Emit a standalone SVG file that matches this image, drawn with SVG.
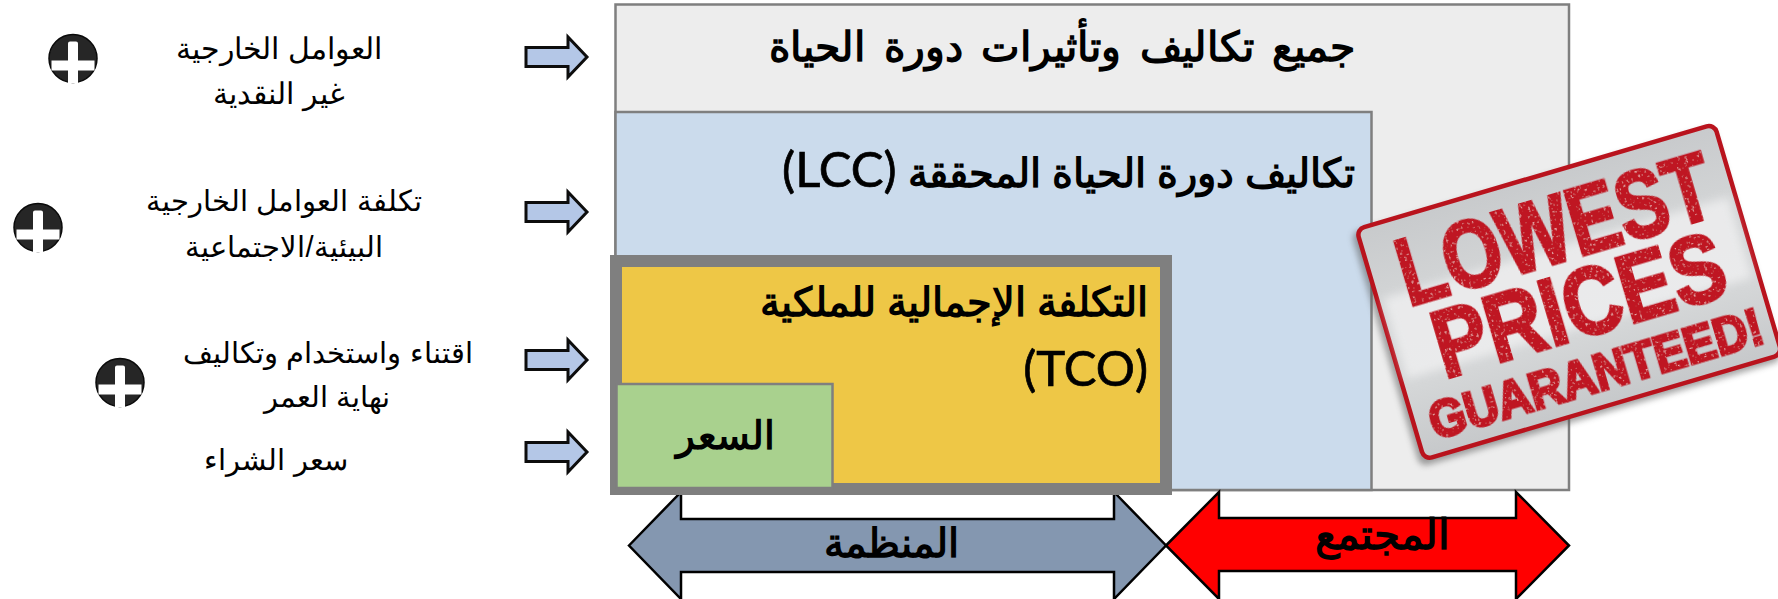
<svg xmlns="http://www.w3.org/2000/svg" width="1778" height="599" viewBox="0 0 1778 599">
<defs>
<style>
text{font-family:"Liberation Sans","Noto Sans",sans-serif;fill:#000;direction:rtl}
.lab{font-size:30px;text-anchor:middle}
.lab2{font-size:29px;text-anchor:middle}
.head{font-size:40px;font-weight:bold}
.mid{text-anchor:middle}
.lat{font-family:Lato,"Open Sans",sans-serif;font-size:49px;font-weight:normal;stroke:#000;stroke-width:.7px}
.box{stroke:#7f7f7f;stroke-width:2.5}
.small{fill:#b4c7e7;stroke:#0d0d0d;stroke-width:3}
.big{stroke:#000;stroke-width:2.5}
.stamp{font-family:"Liberation Sans",sans-serif;font-weight:bold;fill:#bf1722;stroke:#bf1722;stroke-width:3px;direction:ltr}
</style>
<linearGradient id="card" x1="0" y1="0" x2="0" y2="1">
<stop offset="0" stop-color="#c8cacc"/><stop offset=".3" stop-color="#d2d4d5"/><stop offset=".7" stop-color="#d4d6d7"/><stop offset="1" stop-color="#c6c8ca"/>
</linearGradient>
<filter id="blur" x="-10%" y="-10%" width="120%" height="120%"><feGaussianBlur stdDeviation="3"/></filter>
<filter id="bandblur" x="-5%" y="-20%" width="110%" height="140%"><feGaussianBlur stdDeviation="5"/></filter>
<filter id="speck" x="-5%" y="-5%" width="110%" height="110%">
<feTurbulence type="fractalNoise" baseFrequency=".4" numOctaves="2" seed="4" result="n"/>
<feColorMatrix in="n" type="matrix" values="0 0 0 0 .88 0 0 0 0 .42 0 0 0 0 .44 0 0 0 6 -3.9" result="s"/>
<feComposite in="s" in2="SourceAlpha" operator="in" result="c"/>
<feMerge><feMergeNode in="SourceGraphic"/><feMergeNode in="c"/></feMerge>
</filter>
<g id="badge">
<circle r="24" fill="#262626" stroke="#0a0a0a" stroke-width="1.5"/>
<path d="M-5,-15Q-5,-17 -3,-17H3Q5,-17 5,-15V2H21.5V12H5V24.5H-5V12H-21.5V2H-5Z" fill="#fff"/>
</g>
<path id="arr" class="small" d="M-61,-9.5H-19V-20L0,0L-19,20V9.5H-61Z"/>
</defs>
<g id="outer"><rect class="box" x="615.5" y="4.5" width="953.5" height="485.5" fill="#ededed"/></g>
<g id="lcc"><rect class="box" x="615.5" y="112" width="756" height="378" fill="#cbdbec"/></g>
<g id="connectors">
<use href="#arr" x="587" y="57"/>
<use href="#arr" x="587" y="212"/>
<use href="#arr" x="587" y="360"/>
<use href="#arr" x="587" y="452"/>
<path class="big" fill="#8497b0" d="M629,545.5L681,492V519H1114V492L1166,545.5L1114,599V572H681V599Z"/>
<path class="big" fill="#ff0000" d="M1166,545.5L1219,492V518H1516V492L1569,545.5L1516,599V571H1219V599Z"/>
</g>
<g id="tco"><rect x="616" y="261" width="550" height="228" fill="#eec746" stroke="#7f7f7f" stroke-width="12"/></g>
<g id="price"><rect class="box" x="616.5" y="384" width="216" height="104" fill="#a9d18e"/></g>
<g id="t1"><text class="head" x="1355" y="61" style="font-size:41px;word-spacing:7px">جميع تكاليف وتأثيرات دورة الحياة</text></g>
<g id="t2"><text class="head" x="1355" y="187">تكاليف دورة الحياة المحققة <tspan class="lat">(LCC)</tspan></text></g>
<g id="t3"><text class="head" x="1148" y="316">التكلفة الإجمالية للملكية</text><text class="head" x="1148" y="386"><tspan class="lat">(TCO)</tspan></text></g>
<g id="t4"><text class="head mid" x="725" y="449" style="font-size:39px">السعر</text></g>
<g id="l1"><text class="head mid" x="891" y="557">المنظمة</text></g>
<g id="l2"><text class="head mid" x="1382" y="549" style="font-size:42px">المجتمع</text></g>
<g id="side1"><use href="#badge" x="73" y="58.5"/><text class="lab" x="279" y="59">العوامل الخارجية</text><text class="lab" x="279" y="104">غير النقدية</text></g>
<g id="side2"><use href="#badge" x="38" y="227.5"/><text class="lab2" x="284" y="211">تكلفة العوامل الخارجية</text><text class="lab2" x="284" y="257">البيئية/الاجتماعية</text></g>
<g id="side3"><use href="#badge" x="120" y="382.5"/><text class="lab2" x="328" y="363">اقتناء واستخدام وتكاليف</text><text class="lab2" x="327" y="407">نهاية العمر</text></g>
<g id="side4"><text class="lab2" x="276" y="470">سعر الشراء</text></g>
<g id="stamp" transform="translate(1354,228) rotate(-16.4)">
<rect x="-4" y="4" width="377" height="244" rx="8" fill="#555" opacity=".55" filter="url(#blur)"/>
<rect x="2" y="2" width="373" height="240" rx="8" fill="url(#card)" stroke="#b9131d" stroke-width="4.5"/>
<rect x="8" y="76" width="360" height="84" fill="#f2f2f3" opacity=".75" filter="url(#bandblur)"/>
<g filter="url(#speck)">
<text class="stamp" transform="translate(30,91) scale(.79,1)" font-size="96">LOWEST</text>
<text class="stamp" transform="translate(44,170) scale(.84,1)" font-size="96">PRICES</text>
<text class="stamp" transform="translate(18,226) scale(.9,1)" font-size="52">GUARANTEED!</text>
</g>
</g>
</svg>
